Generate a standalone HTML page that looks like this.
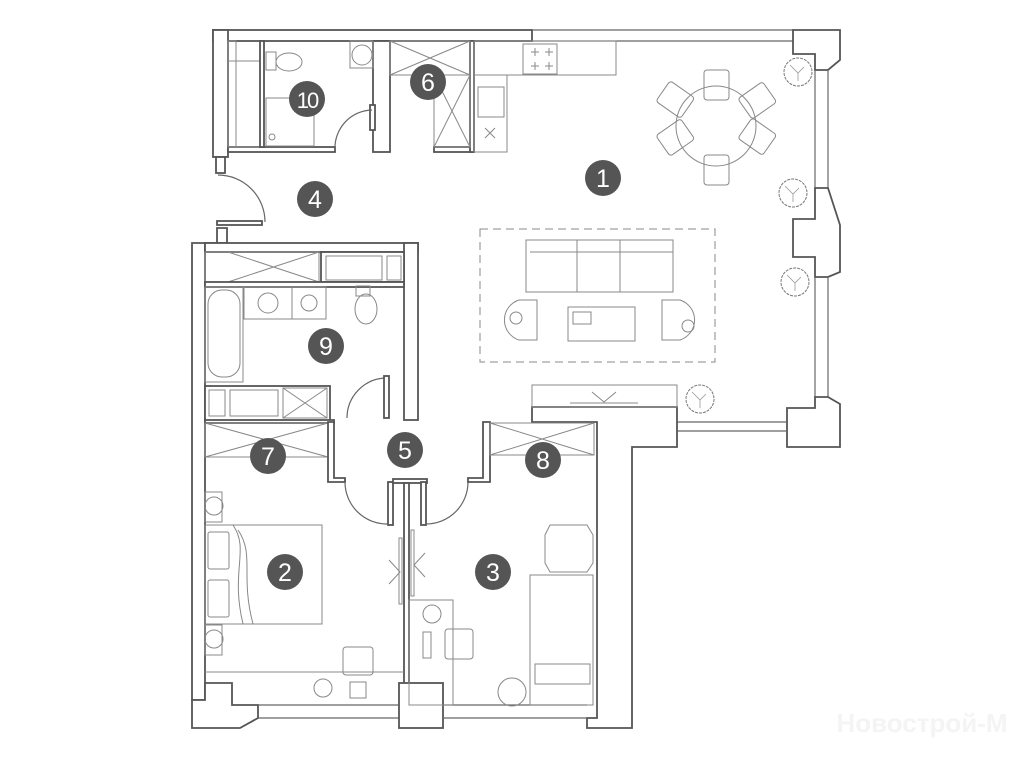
<!DOCTYPE html>
<html><head><meta charset="utf-8"><style>
html,body{margin:0;padding:0;background:#fff;width:1024px;height:768px;overflow:hidden}
svg{display:block}
.w{fill:#fff;stroke:#555;stroke-width:1.8}
.t{fill:none;stroke:#888;stroke-width:1}
.f{fill:#fff;stroke:#999;stroke-width:1}
.d{fill:none;stroke:#666;stroke-width:1.2}
.n circle{fill:#555}
.n text{fill:#fff;font-family:"Liberation Sans",sans-serif;font-size:25px;text-anchor:middle}
</style></head><body>
<svg width="1024" height="768" viewBox="0 0 1024 768" xmlns="http://www.w3.org/2000/svg">
<!-- top walls -->
<rect class="w" x="213" y="30" width="319" height="11"/>
<line class="d" x1="532" y1="30" x2="793" y2="30"/>
<line class="d" x1="532" y1="41" x2="793" y2="41"/>
<rect class="w" x="213" y="30" width="15" height="127"/>
<rect class="w" x="216" y="157" width="9" height="16"/>
<polygon class="w" points="793,30 840,30 840,60 828,70 815,70 815,54 793,54"/>
<line class="d" x1="815" y1="70" x2="815" y2="188"/><line class="d" x1="828" y1="70" x2="828" y2="188"/>
<polygon class="w" points="815,188 828,188 840,225 840,272 828,277 815,277 815,257 793,257 793,219 815,219"/>
<line class="d" x1="815" y1="277" x2="815" y2="397"/><line class="d" x1="828" y1="277" x2="828" y2="397"/>
<polygon class="w" points="815,397 828,397 840,404 840,447 787,447 787,408 815,408"/>
<line class="d" x1="677" y1="422" x2="787" y2="422"/><line class="d" x1="677" y1="431" x2="787" y2="431"/>
<polygon class="w" points="532,407 677,407 677,447 632,447 632,728 587,728 587,718 597,718 597,422 532,422"/>
<!-- room 10 / 6 walls -->
<rect class="w" x="228" y="147" width="107" height="5"/>
<rect class="w" x="373" y="41" width="17" height="111"/>
<rect class="w" x="370" y="105" width="5" height="25"/>
<rect class="w" x="434" y="147" width="39" height="5"/>
<rect class="w" x="470" y="41" width="4" height="111"/>
<rect class="t" x="228" y="41" width="8" height="106"/>
<rect class="t" x="228" y="61" width="32" height="86"/>
<rect class="w" x="260" y="41" width="4" height="106"/>
<!-- toilet room10 -->
<rect class="t" x="266" y="52" width="10" height="18"/><ellipse class="t" cx="289" cy="62" rx="13" ry="9"/>
<rect class="t" x="266" y="98" width="48" height="48"/><circle class="t" cx="272" cy="137" r="3"/>
<rect class="t" x="350" y="41" width="23" height="27"/><circle class="t" cx="362" cy="55" r="10"/>
<!-- closet 6 -->
<rect class="t" x="390" y="41" width="80" height="34"/>
<line class="t" x1="390" y1="41" x2="470" y2="75"/><line class="t" x1="390" y1="75" x2="470" y2="41"/>
<rect class="t" x="434" y="75" width="36" height="72"/>
<line class="t" x1="434" y1="75" x2="470" y2="147"/><line class="t" x1="434" y1="147" x2="470" y2="75"/>
<!-- door room10 -->
<path class="d" d="M335,150 A38,38 0 0 1 372,110"/>
<!-- kitchen -->
<rect class="t" x="474" y="41" width="142" height="34"/>
<rect class="t" x="523" y="44" width="34" height="30"/>
<path class="t" d="M531,52h8M535,48v8M545,52h8M549,48v8M531,66h8M535,62v8M545,66h8M549,62v8"/>
<rect class="t" x="474" y="75" width="33" height="77"/>
<rect class="t" x="478" y="87" width="26" height="30"/>
<path class="t" d="M485,128l10,10M495,128l-10,10"/>
<!-- entry door -->
<rect class="w" x="217" y="221" width="45" height="4"/>
<path class="d" d="M218,175 A47,47 0 0 1 265,222"/>
<!-- left walls / room 9 -->
<polygon class="w" points="192,243 217,243 217,228 227,228 227,243 205,243 205,700 192,700"/>
<rect class="w" x="205" y="243" width="213" height="9"/>
<rect class="w" x="404" y="243" width="14" height="177"/>
<rect class="t" x="205" y="252" width="114" height="30"/>
<line class="t" x1="228" y1="252" x2="319" y2="282"/><line class="t" x1="228" y1="282" x2="319" y2="252"/>
<rect class="w" x="321" y="252" width="83" height="30"/>
<rect class="t" x="326" y="256" width="56" height="24"/><rect class="t" x="387" y="256" width="14" height="24"/>
<rect class="w" x="205" y="282" width="199" height="5"/>
<rect class="t" x="205" y="287" width="38" height="95"/><rect class="t" x="208" y="290" width="32" height="87" rx="14"/>
<rect class="t" x="244" y="287" width="48" height="32"/><circle class="t" cx="268" cy="303" r="10"/>
<rect class="t" x="292" y="287" width="34" height="32"/><circle class="t" cx="309" cy="303" r="8"/>
<rect class="t" x="356" y="286" width="14" height="10"/><ellipse class="t" cx="366" cy="309" rx="11" ry="15"/>
<rect class="w" x="205" y="386" width="125" height="36"/>
<rect class="t" x="209" y="390" width="16" height="26"/><rect class="t" x="230" y="390" width="48" height="26"/>
<rect class="t" x="283" y="388" width="44" height="30"/>
<line class="t" x1="283" y1="388" x2="327" y2="418"/><line class="t" x1="283" y1="418" x2="327" y2="388"/>
<path class="d" d="M347,418 A40,40 0 0 1 386,378"/>
<rect class="w" x="384" y="376" width="5" height="42"/>
<!-- room 7 -->
<rect class="w" x="205" y="420" width="129" height="3"/>
<rect class="t" x="205" y="423" width="123" height="34"/>
<line class="t" x1="205" y1="423" x2="328" y2="457"/><line class="t" x1="205" y1="457" x2="328" y2="423"/>
<polygon class="w" points="328,422 334,422 334,478 345,478 345,482 328,482"/>
<!-- corridor doors -->
<path class="d" d="M345,482 A42,42 0 0 0 387,524"/>
<rect class="w" x="388" y="482" width="5" height="43"/>
<rect class="w" x="393" y="479" width="34" height="4"/>
<rect class="w" x="404" y="483" width="5" height="222"/>
<rect class="w" x="421" y="482" width="5" height="43"/>
<path class="d" d="M426,524 A42,42 0 0 0 468,482"/>
<polygon class="w" points="468,478 483,478 483,422 490,422 490,482 468,482"/>
<!-- room 8 -->
<rect class="t" x="490" y="423" width="104" height="32"/>
<line class="t" x1="490" y1="423" x2="594" y2="455"/><line class="t" x1="490" y1="455" x2="594" y2="423"/>
<!-- sliding door -->
<rect class="t" x="399" y="538" width="3" height="66"/><rect class="t" x="411" y="530" width="3" height="66"/>
<path class="t" d="M389,560l11,12l-11,12M425,553l-11,12l11,12"/>
<!-- bottom walls -->
<polygon class="w" points="192,700 205,700 205,683 232,683 232,705 258,705 258,718 240,728 192,728"/>
<line class="d" x1="258" y1="705" x2="399" y2="705"/><line class="d" x1="258" y1="718" x2="399" y2="718"/>
<rect class="w" x="399" y="683" width="44" height="45"/>
<line class="d" x1="443" y1="705" x2="587" y2="705"/><line class="d" x1="443" y1="718" x2="587" y2="718"/>
<!-- room 2 furniture -->
<line class="t" x1="205" y1="672" x2="404" y2="672"/>
<rect class="t" x="205" y="492" width="17" height="30"/><circle class="t" cx="214" cy="506" r="9"/>
<rect class="t" x="205" y="625" width="17" height="30"/><circle class="t" cx="214" cy="639" r="9"/>
<rect class="t" x="205" y="525" width="117" height="99"/>
<rect class="t" x="208" y="532" width="21" height="37" rx="2"/><rect class="t" x="208" y="580" width="21" height="37" rx="2"/>
<path class="t" d="M233,525 C250,550 230,570 243,624 M238,530 C255,555 240,575 253,624"/>
<rect class="t" x="343" y="647" width="30" height="28" rx="3"/>
<circle class="t" cx="323" cy="688" r="9"/>
<rect class="t" x="350" y="682" width="16" height="16"/>
<!-- room 3 furniture -->
<rect class="t" x="409" y="600" width="44" height="105"/>
<circle class="t" cx="432" cy="614" r="9"/>
<rect class="t" x="423" y="632" width="8" height="26"/>
<rect class="t" x="445" y="629" width="28" height="30" rx="3"/>
<polygon class="t" points="550,525 587,525 593,535 593,563 587,572 550,572 545,563 545,535"/>
<rect class="t" x="530" y="575" width="63" height="130"/>
<rect class="t" x="535" y="664" width="55" height="20"/>
<circle class="t" cx="512" cy="692" r="14"/>
<!-- living -->
<rect x="480" y="229" width="235" height="133" fill="none" stroke="#888" stroke-width="1" stroke-dasharray="8,5"/>
<rect class="t" x="526" y="240" width="147" height="52"/>
<line class="t" x1="530" y1="252" x2="673" y2="252"/>
<line class="t" x1="577" y1="240" x2="577" y2="292"/><line class="t" x1="620" y1="240" x2="620" y2="292"/>
<path class="t" d="M537,300 h-18 a21,21 0 0 0 0,40 h18 z"/><circle class="t" cx="516" cy="318" r="6"/>
<path class="t" d="M662,300 h18 a21,21 0 0 1 0,40 h-18 z"/><circle class="t" cx="688" cy="326" r="6"/>
<rect class="t" x="568" y="307" width="67" height="34"/><rect class="t" x="573" y="312" width="18" height="12"/>
<rect class="t" x="532" y="385" width="145" height="22"/>
<line class="t" x1="570" y1="403" x2="638" y2="403"/><path class="t" d="M592,392l12,10l12,-10"/>
<!-- dining -->
<circle class="t" cx="716" cy="126" r="40"/>
<g class="t">
<rect x="704" y="70" width="25" height="30" rx="3"/>
<rect x="704" y="155" width="25" height="30" rx="3"/>
<rect x="745" y="85" width="25" height="30" rx="3" transform="rotate(55 757 100)"/>
<rect x="745" y="122" width="25" height="30" rx="3" transform="rotate(-55 757 137)"/>
<rect x="663" y="85" width="25" height="30" rx="3" transform="rotate(-55 675 100)"/>
<rect x="663" y="122" width="25" height="30" rx="3" transform="rotate(55 675 137)"/>
</g>
<!-- plants -->
<g fill="none" stroke="#777" stroke-width="1" stroke-dasharray="3,1">
<circle cx="798" cy="72" r="14"/><circle cx="793" cy="193" r="14"/><circle cx="795" cy="282" r="14"/><circle cx="700" cy="399" r="14"/>
</g>
<g fill="none" stroke="#999" stroke-width="0.8">
<path d="M790,65l8,8l6,-6M798,73v8M785,186l8,8l6,-6M793,194v8M787,275l8,8l6,-6M795,283v8M692,392l8,8l6,-6M700,400v8"/>
</g>
<!-- numbers -->
<g class="n">
<circle cx="603" cy="178" r="18"/><text x="603" y="187">1</text>
<circle cx="285" cy="572" r="18"/><text x="285" y="581">2</text>
<circle cx="493" cy="572" r="18"/><text x="493" y="581">3</text>
<circle cx="315" cy="199" r="18"/><text x="315" y="208">4</text>
<circle cx="405" cy="450" r="18"/><text x="405" y="459">5</text>
<circle cx="428" cy="82" r="18"/><text x="428" y="91">6</text>
<circle cx="268" cy="456" r="18"/><text x="268" y="465">7</text>
<circle cx="543" cy="460" r="18"/><text x="543" y="469">8</text>
<circle cx="326" cy="346" r="18"/><text x="326" y="355">9</text>
<circle cx="307" cy="99" r="18"/><text x="307" y="108" style="font-size:22px;letter-spacing:-2px">10</text>
</g>
<text x="922" y="732" fill="#f4f4f4" font-family="'Liberation Sans',sans-serif" font-size="26" font-weight="bold" text-anchor="middle">Новострой-М</text>
</svg>
</body></html>
